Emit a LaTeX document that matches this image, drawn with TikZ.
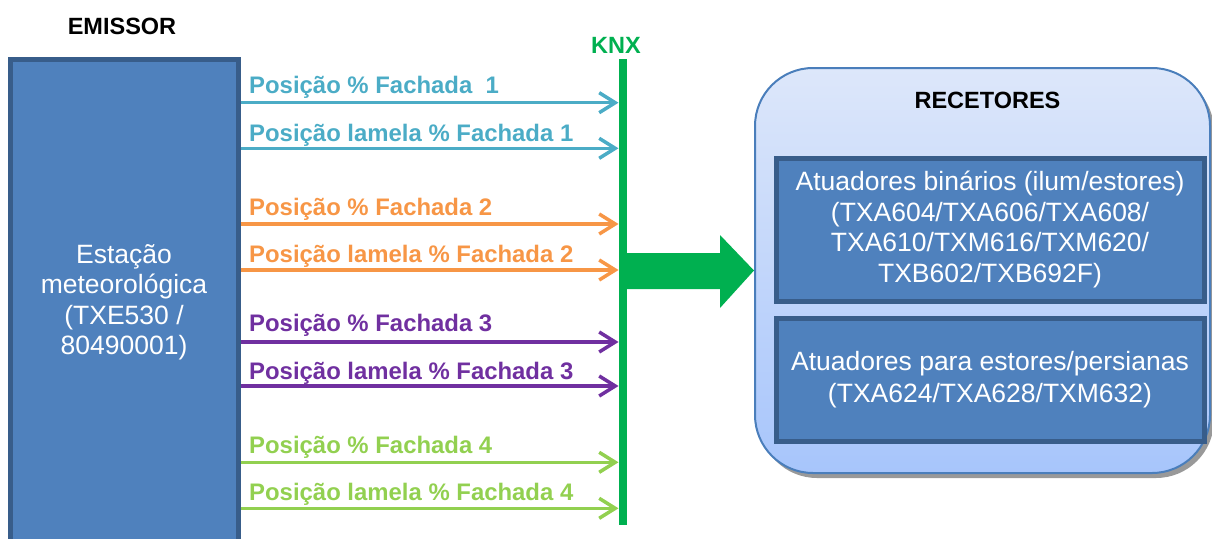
\documentclass[tikz,border=0pt]{standalone}
\usepackage{fontspec}
\setmainfont{Liberation Sans}
\usetikzlibrary{arrows.meta,shadows}
\definecolor{cyanc}{HTML}{4BACC6}
\definecolor{orangec}{HTML}{F79646}
\definecolor{purplec}{HTML}{7030A0}
\definecolor{lgreenc}{HTML}{92D050}
\definecolor{busgreen}{HTML}{00B050}
\definecolor{emfill}{HTML}{4F81BD}
\definecolor{embd}{HTML}{385D8A}
\definecolor{recbd}{HTML}{4A7EBB}
\definecolor{rectop}{HTML}{DDE7FA}
\definecolor{recbot}{HTML}{A7C5FB}
\begin{document}
\begin{tikzpicture}[x=1pt,y=-1pt,
  lbl/.style={anchor=base west, inner sep=0pt, font=\fontsize{23.9}{28}\selectfont\bfseries},
  ttl/.style={inner sep=0pt, font=\fontsize{23.5}{28}\selectfont\bfseries},
  arr/.style={line width=3.5pt, -{Straight Barb[length=16pt,width=20pt]}},
  bluebox/.style={draw=embd, line width=5pt, fill=emfill, text=white, align=center, inner sep=0pt, font=\fontsize{26.5}{30.5}\selectfont}]
\useasboundingbox (0,0) rectangle (1212,538);

% titles
\node[ttl] (emt) at (122,26) {EMISSOR};
\node[ttl, text=busgreen] (knx) at (616,45) {KNX};

% emitter
\node[bluebox, minimum width=228pt, minimum height=486pt] (em) at (124,302)
  {Estação\\meteorológica\\(TXE530 /\\80490001)};

% receptor container
\node[draw=recbd, line width=2pt, rounded corners=58pt, top color=rectop, bottom color=recbot,
  drop shadow={shadow xshift=4pt, shadow yshift=-5pt, fill=black!40, opacity=1},
  minimum width=455pt, minimum height=405pt, inner sep=0pt] (rec) at (982.5,270.5) {};
\node[ttl] (rect) at (987.5,100) {RECETORES};
\node[bluebox, minimum width=428pt, minimum height=143pt] (b1) at (990,229.5)
  {Atuadores binários (ilum/estores)\\(TXA604/TXA606/TXA608/\\TXA610/TXM616/TXM620/\\TXB602/TXB692F)};
\node[bluebox, minimum width=428pt, minimum height=123pt, font=\fontsize{26.5}{32}\selectfont] (b2) at (990,379.5)
  {Atuadores para estores/persianas\\(TXA624/TXA628/TXM632)};

% bus
\node[fill=busgreen, minimum width=8pt, minimum height=466pt, inner sep=0pt] (bus) at (622.7,292) {};

% big arrow
\fill[busgreen] (bus.center |- 0,253) -- (720,253) -- (720,235) -- (rec.west) -- (720,308)
  -- (720,289) -- (bus.center |- 0,289) -- cycle;

% labels
\node[lbl, text=cyanc] (l1) at (249,93.5) {Posição \% Fachada\ \ 1};
\node[lbl, text=cyanc] (l2) at (249,141.5) {Posição lamela \% Fachada 1};
\node[lbl, text=orangec] (l3) at (249,215.5) {Posição \% Fachada 2};
\node[lbl, text=orangec] (l4) at (249,262.5) {Posição lamela \% Fachada 2};
\node[lbl, text=purplec] (l5) at (249,331.5) {Posição \% Fachada 3};
\node[lbl, text=purplec] (l6) at (249,379.5) {Posição lamela \% Fachada 3};
\node[lbl, text=lgreenc] (l7) at (249,453.5) {Posição \% Fachada 4};
\node[lbl, text=lgreenc] (l8) at (249,500.5) {Posição lamela \% Fachada 4};

% arrows
\draw[arr, cyanc] (em.east |- 0,102.7) -- (bus.west |- 0,102.7);
\draw[arr, cyanc] (em.east |- 0,148.3) -- (bus.west |- 0,148.3);
\draw[arr, orangec] (em.east |- 0,224) -- (bus.west |- 0,224);
\draw[arr, orangec] (em.east |- 0,270) -- (bus.west |- 0,270);
\draw[arr, purplec] (em.east |- 0,342) -- (bus.west |- 0,342);
\draw[arr, purplec] (em.east |- 0,386) -- (bus.west |- 0,386);
\draw[arr, lgreenc] (em.east |- 0,462.3) -- (bus.west |- 0,462.3);
\draw[arr, lgreenc] (em.east |- 0,508.3) -- (bus.west |- 0,508.3);
\end{tikzpicture}
\end{document}
